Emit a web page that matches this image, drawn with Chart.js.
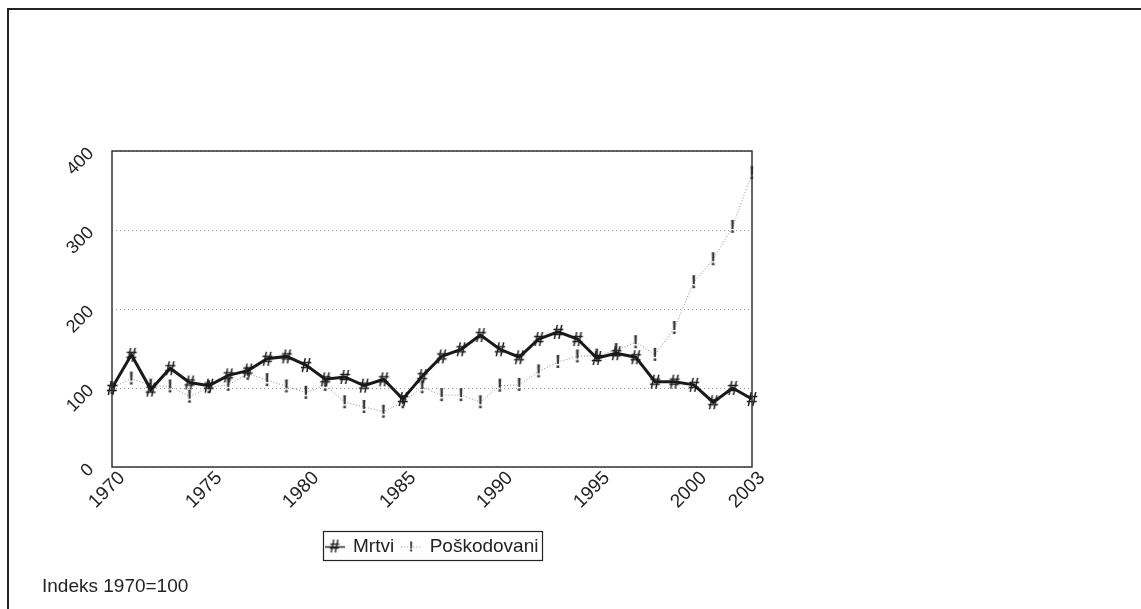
<!DOCTYPE html>
<html>
<head>
<meta charset="utf-8">
<script src="https://cdn.jsdelivr.net/npm/chart.js@4/dist/chart.umd.min.js"></script>
<style>
  html, body { margin: 0; padding: 0; background: #fff; }
  body { width: 1141px; height: 609px; position: relative; overflow: hidden; }
  #frame { position: absolute; left: 7px; top: 8px; width: 1200px; height: 700px;
           border-top: 2px solid #222; border-left: 2px solid #222; }
  #chart { position: absolute; left: 0; top: 0; }
  #note { position: absolute; left: 42px; top: 576px; font: 19px "Liberation Sans", Arial, sans-serif;
          line-height: 19px; color: #222; }
</style>
</head>
<body>
<div id="frame"></div>
<canvas id="chart" width="870" height="609"></canvas>
<div id="note">Indeks 1970=100</div>
<script>
const years = [
  "1970","1971","1972","1973","1974","1975","1976","1977","1978","1979",
  "1980","1981","1982","1983","1984","1985","1986","1987","1988","1989",
  "1990","1991","1992","1993","1994","1995","1996","1997","1998","1999",
  "2000","2001","2002","2003"
];
const shownYears = ["1970","1975","1980","1985","1990","1995","2000","2003"];

const mrtvi = [100,142,98,125,107,103,116,122,137,140,
               129,111,114,103,111,86,115,140,149,167,
               149,139,162,171,162,138,144,139,108,108,
               104,82,100,86];
const poskodovani = [100,112,103,102,89,101,104,118,110,102,
                     94,104,82,76,70,82,101,91,91,82,
                     103,104,121,133,140,141,148,158,142,176,
                     234,263,304,372];

const yTicks = [0, 100, 200, 300, 400];
const font = '"Liberation Sans", Arial, sans-serif';

// glyph markers like the original (# and !)
function glyph(ch, color, w, h, size, line) {
  const c = document.createElement('canvas');
  c.width = w; c.height = h;
  const g = c.getContext('2d');
  if (line) {
    g.strokeStyle = line.color;
    g.lineWidth = line.width;
    g.setLineDash(line.dash || []);
    g.beginPath();
    g.moveTo(0, h / 2 + 0.5);
    g.lineTo(w, h / 2 + 0.5);
    g.stroke();
  }
  g.fillStyle = color;
  g.font = 'bold ' + size + 'px ' + font;
  g.textAlign = 'center';
  g.textBaseline = 'middle';
  g.fillText(ch, w / 2, h / 2 + 1);
  return c;
}

const hashPt = glyph('#', '#1a1a1a', 20, 22, 20);
const bangPt = glyph('!', '#3a3a3a', 12, 22, 19);
const hashLeg = glyph('#', '#1a1a1a', 20, 20, 18, {color: '#222', width: 1.5});
const bangLeg = glyph('!', '#444', 20, 20, 15, {color: '#999', width: 1, dash: [1, 2]});

const framePlugin = {
  id: 'frame',
  afterDraw(chart) {
    const {ctx, chartArea: a} = chart;
    ctx.save();
    ctx.strokeStyle = '#333';
    ctx.lineWidth = 1.5;
    ctx.strokeRect(a.left, a.top, a.right - a.left, a.bottom - a.top);
    // box round the legend
    const boxes = chart.legend.legendHitBoxes;
    if (boxes && boxes.length) {
      let l = Infinity, r = -Infinity, t = Infinity, b = -Infinity;
      boxes.forEach(h => {
        l = Math.min(l, h.left); r = Math.max(r, h.left + h.width);
        t = Math.min(t, h.top); b = Math.max(b, h.top + h.height);
      });
      ctx.lineWidth = 1.2;
      ctx.strokeStyle = '#222';
      ctx.strokeRect(Math.round(l - 3) + 0.5, Math.round(t - 6) + 0.5,
                     Math.round(r - l + 6), Math.round(b - t + 10));
    }
    ctx.restore();
  }
};

new Chart(document.getElementById('chart'), {
  type: 'line',
  data: {
    labels: years,
    datasets: [
      {
        label: 'Mrtvi',
        data: mrtvi,
        borderColor: '#1a1a1a',
        borderWidth: 3,
        pointStyle: hashPt,
        tension: 0
      },
      {
        label: 'Poškodovani',
        data: poskodovani,
        borderColor: '#8a8a8a',
        borderWidth: 1,
        borderDash: [1, 2],
        pointStyle: bangPt,
        tension: 0
      }
    ]
  },
  options: {
    responsive: false,
    animation: false,
    layout: {
      padding: {left: 10, right: 118, top: 151, bottom: 43}
    },
    scales: {
      x: {
        grid: {display: false, drawTicks: false},
        border: {display: false},
        afterFit(scale) { scale.height = 62; },
        ticks: {
          autoSkip: false,
          minRotation: 45,
          maxRotation: 45,
          padding: 0,
          labelOffset: 10,
          color: '#222',
          font: {family: font, size: 19},
          callback(v, i) {
            const y = years[i];
            return shownYears.includes(y) ? y : '';
          }
        }
      },
      y: {
        min: yTicks[0],
        max: yTicks[yTicks.length - 1],
        afterFit(scale) { scale.width = 102; },
        afterBuildTicks(scale) { scale.ticks = yTicks.map(v => ({value: v})); },
        grid: {color: '#9a9a9a', lineWidth: 1, drawTicks: false},
        border: {display: false, dash: [1, 3]},
        ticks: {
          minRotation: 45,
          maxRotation: 45,
          padding: 21,
          color: '#222',
          font: {family: font, size: 18}
        }
      }
    },
    plugins: {
      tooltip: {enabled: false},
      legend: {
        position: 'bottom',
        fullSize: false,
        labels: {
          usePointStyle: true,
          pointStyleWidth: 18,
          padding: 8,
          color: '#222',
          font: {family: font, size: 19},
          generateLabels(chart) {
            const legs = [hashLeg, bangLeg];
            return chart.data.datasets.map((ds, i) => ({
              text: ds.label,
              pointStyle: legs[i],
              fillStyle: 'transparent',
              strokeStyle: 'transparent',
              lineWidth: 0,
              datasetIndex: i,
              fontColor: '#222'
            }));
          }
        }
      }
    }
  },
  plugins: [framePlugin]
});
</script>
</body>
</html>
